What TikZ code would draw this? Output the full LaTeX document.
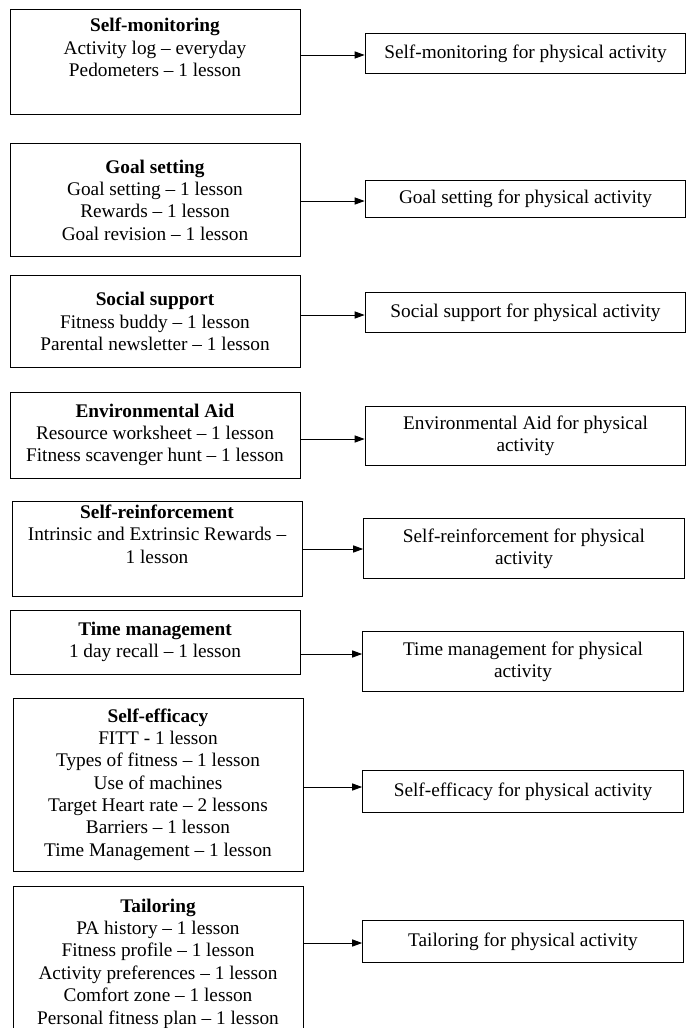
\documentclass[tikz,border=0pt]{standalone}
\usepackage{fontspec}
\setmainfont{Liberation Serif}
\usetikzlibrary{arrows.meta}

\begin{document}
\begin{tikzpicture}[x=0.622pt, y=-0.622pt,
        every node/.style={font=\fontsize{12}{13.9}\selectfont, align=center, inner sep=0pt},
        lbox/.style={draw, line width=0.6pt, minimum width=180.4pt, minimum height=#1},
        rbox/.style={draw, line width=0.6pt, minimum width=199.5pt, minimum height=#1},
        arr/.style={line width=0.6pt, -{Triangle[length=6.2pt,width=4.4pt]}}]

        % Page frame
        \clip (0,0) rectangle (686,1028);

        % Strategy boxes on the left
        \node[lbox=65.9pt] (sm) at (155,62) {\textbf{Self-monitoring}\\Activity log -- everyday\\Pedometers -- 1 lesson\\ \strut};
        \node[lbox=69.7pt] (gs) at (155,200) {\textbf{Goal setting}\\Goal setting -- 1 lesson\\Rewards -- 1 lesson\\Goal revision -- 1 lesson};
        \node[lbox=57.8pt] (ss) at (155,321.5) {\textbf{Social support}\\Fitness buddy -- 1 lesson\\Parental newsletter -- 1 lesson};
        \node[lbox=53.5pt] (ea) at (155,435) {\textbf{Environmental Aid}\\Resource worksheet -- 1 lesson\\Fitness scavenger hunt -- 1 lesson};
        \node[lbox=59.1pt] (sr) at (157,548.5) {\textbf{Self-reinforcement}\\Intrinsic and Extrinsic Rewards --\\1 lesson\\ \strut};
        \node[lbox=39.8pt] (tm) at (155,642) {\textbf{Time management}\\1 day recall -- 1 lesson};
        \node[lbox=107.6pt] (se) at (158,784.5) {\textbf{Self-efficacy}\\FITT - 1 lesson\\Types of fitness -- 1 lesson\\Use of machines\\Target Heart rate -- 2 lessons\\Barriers -- 1 lesson\\Time Management -- 1 lesson};
        \node[lbox=96.4pt] (ta) at (158,963.5) {\textbf{Tailoring}\\PA history -- 1 lesson\\Fitness profile -- 1 lesson\\Activity preferences -- 1 lesson\\Comfort zone -- 1 lesson\\Personal fitness plan -- 1 lesson};

        % Outcome boxes on the right
        \node[rbox=24.3pt] (smr) at (525.5,53.5) {Self-monitoring for physical activity};
        \node[rbox=23.6pt] (gsr) at (525.5,199) {Goal setting for physical activity};
        \node[rbox=24.3pt] (ssr) at (525.5,312.5) {Social support for physical activity};
        \node[rbox=36.7pt] (ear) at (525.5,435.5) {Environmental Aid for physical\\activity};
        \node[rbox=37.9pt] (srr) at (524,548.5) {Self-reinforcement for physical\\activity};
        \node[rbox=37.9pt] (tmr) at (523,661.5) {Time management for physical\\activity};
        \node[rbox=26.7pt] (ser) at (523,791.5) {Self-efficacy for physical activity};
        \node[rbox=26.7pt] (tar) at (523,941.5) {Tailoring for physical activity};

        % Arrows
        \foreach \l/\r/\y in {sm/smr/55, gs/gsr/201, ss/ssr/315, ea/ear/439, sr/srr/549, tm/tmr/654, se/ser/787, ta/tar/943} {
            \draw[arr] (\l.east |- 0,\y) -- (\r.west |- 0,\y);
        }

\end{tikzpicture}
\end{document}
